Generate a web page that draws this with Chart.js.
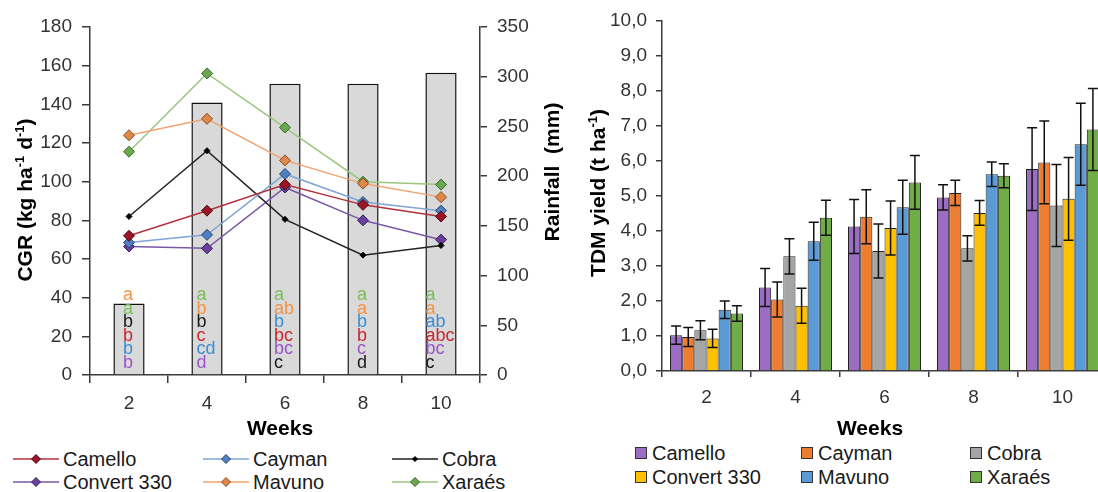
<!DOCTYPE html>
<html>
<head>
<meta charset="utf-8">
<script src="https://cdn.jsdelivr.net/npm/chart.js@4.4.0/dist/chart.umd.min.js"></script>
<style>
  html, body { margin:0; padding:0; background:#fff; width:1098px; height:492px; overflow:hidden; }
  body { position:relative; font-family:"Liberation Sans", Arial, sans-serif; }
  #cgr { position:absolute; left:0; top:0; }
  #tdm { position:absolute; left:580px; top:0; }
  .leg { position:absolute; font-size:20px; color:#1a1a1a; display:flex; align-items:center; white-space:nowrap; height:22px; line-height:22px; }
  .leg svg { margin-right:4px; }
  .quad { display:inline-block; width:10px; height:10px; border:1px solid #333; margin-right:5px; }
</style>
</head>
<body>
<canvas id="cgr" width="570" height="440"></canvas>
<canvas id="tdm" width="540" height="440"></canvas>
<div id="legendas"></div>
<script>
const semanas = ['2', '4', '6', '8', '10'];
const cultivares = ['Camello', 'Cayman', 'Cobra', 'Convert 330', 'Mavuno', 'Xaraés'];

// chuva acumulada (mm)
const chuva = [72, 274, 293, 293, 304];

// CGR (kg ha-1 d-1) por cultivar
const cgrCamello = [72, 85, 98.5, 88, 82];
const cgrCayman  = [68.5, 72.5, 104, 89.5, 85];
const cgrCobra   = [82, 116, 80.5, 62, 67];
const cgrConvert = [66.5, 65.5, 97, 80, 70];
const cgrMavuno  = [124, 132.5, 111, 99, 92];
const cgrXaraes  = [115.5, 156, 128, 100, 98.5];

// letras do teste de medias
const letrasCamello = ['b', 'c', 'bc', 'b', 'abc'];
const letrasCayman  = ['b', 'cd', 'b', 'b', 'ab'];
const letrasCobra   = ['b', 'b', 'c', 'd', 'c'];
const letrasConvert = ['b', 'd', 'bc', 'c', 'bc'];
const letrasMavuno  = ['a', 'b', 'ab', 'a', 'a'];
const letrasXaraes  = ['a', 'a', 'a', 'a', 'a'];

// TDM (t ha-1) e erro
const tdmCamello = [1.02, 2.38, 4.12, 4.95, 5.76];
const tdmCayman  = [0.97, 2.04, 4.40, 5.08, 5.95];
const tdmCobra   = [1.16, 3.27, 3.42, 3.50, 4.72];
const tdmConvert = [0.93, 1.86, 4.08, 4.51, 4.91];
const tdmMavuno  = [1.75, 3.70, 4.67, 5.61, 6.47];
const tdmXaraes  = [1.64, 4.37, 5.38, 5.57, 6.89];
const erroCamello = [0.26, 0.54, 0.77, 0.36, 1.18];
const erroCayman  = [0.27, 0.50, 0.77, 0.36, 1.18];
const erroCobra   = [0.27, 0.50, 0.77, 0.36, 1.17];
const erroConvert = [0.26, 0.50, 0.77, 0.35, 1.18];
const erroMavuno  = [0.25, 0.54, 0.77, 0.35, 1.17];
const erroXaraes  = [0.22, 0.50, 0.77, 0.34, 1.17];

const cgrSeries = [cgrCamello, cgrCayman, cgrCobra, cgrConvert, cgrMavuno, cgrXaraes];
const letrasSeries = [letrasCamello, letrasCayman, letrasCobra, letrasConvert, letrasMavuno, letrasXaraes];
const tdmSeries = [tdmCamello, tdmCayman, tdmCobra, tdmConvert, tdmMavuno, tdmXaraes];
const erroSeries = [erroCamello, erroCayman, erroCobra, erroConvert, erroMavuno, erroXaraes];

// cores
const corLinha   = ['#b3323c', '#7fa5d6', '#222222', '#7b58a5', '#f0a36e', '#9cc77e'];
const corPonto   = ['#9c1526', '#4f7fc0', '#000000', '#6a3f9e', '#e0884a', '#6aa84f'];
const corBordaPt = ['#4d0a12', '#29466f', '#000000', '#33205a', '#8a4a20', '#3a6a2a'];
const corLetra   = ['#c8282e', '#3b8ed4', '#1a1a1a', '#9a55c8', '#f29446', '#7dbb5b'];
const corBarra   = ['#9c6dc3', '#ed7d31', '#a5a5a5', '#ffc000', '#5b9bd5', '#70ad47'];

const fonte = '"Liberation Sans", Arial, sans-serif';
Chart.defaults.font.family = fonte;

// texto com sobrescrito (titulos dos eixos)
function textoRico(ctx, partes, x, y, rot, tam) {
  ctx.save();
  ctx.translate(x, y);
  ctx.rotate(rot);
  const fN = `bold ${tam}px ${fonte}`;
  const fS = `bold ${Math.round(tam * 0.62)}px ${fonte}`;
  let total = 0;
  partes.forEach(p => { ctx.font = p[1] ? fS : fN; total += ctx.measureText(p[0]).width; });
  let cx = -total / 2;
  ctx.fillStyle = '#000';
  ctx.textBaseline = 'alphabetic';
  partes.forEach(p => {
    ctx.font = p[1] ? fS : fN;
    ctx.fillText(p[0], cx, tam * 0.36 - (p[1] ? tam * 0.38 : 0));
    cx += ctx.measureText(p[0]).width;
  });
  ctx.restore();
}

//Letras sobre as barras de chuva-------------------------------------------------
const pluginLetras = {
  id: 'letras',
  afterDatasetsDraw(chart) {
    const ctx = chart.ctx;
    const x = chart.scales.x;
    const base = chart.chartArea.bottom;
    ctx.save();
    ctx.font = `18px ${fonte}`;
    ctx.textBaseline = 'middle';
    ctx.textAlign = 'left';
    semanas.forEach((s, i) => {
      // ordem das letras segue o valor de CGR (maior em cima)
      const linhas = cultivares.map((c, k) => ({ v: cgrSeries[k][i], l: letrasSeries[k][i], cor: corLetra[k] }))
        .sort((a, b) => b.v - a.v);
      const larg = Math.max(...linhas.map(o => ctx.measureText(o.l).width));
      const x0 = x.getPixelForValue(i) - larg / 2 - 1;
      linhas.forEach((o, j) => {
        ctx.fillStyle = o.cor;
        ctx.fillText(o.l, x0, base - 12 - (linhas.length - 1 - j) * 13.6);
      });
    });
    ctx.restore();
  },
  afterDraw(chart) {
    const a = chart.chartArea, ctx = chart.ctx;
    textoRico(ctx, [['CGR (kg ha'], ['-1', 1], [' d'], ['-1', 1], [')']], a.left - 66, 200, -Math.PI / 2, 21);
    textoRico(ctx, [['Rainfall  (mm)']], a.right + 71, 172, -Math.PI / 2, 21);
    textoRico(ctx, [['Weeks']], 280, a.bottom + 52, 0, 21);
  }
};

//Barras de erro------------------------------------------------------------------
const pluginErro = {
  id: 'erro',
  afterDatasetsDraw(chart) {
    const ctx = chart.ctx, y = chart.scales.y;
    ctx.save();
    ctx.strokeStyle = '#111';
    ctx.lineWidth = 1.5;
    chart.data.datasets.forEach((ds, k) => {
      chart.getDatasetMeta(k).data.forEach((bar, i) => {
        const v = ds.data[i], e = erroSeries[k][i];
        const yA = y.getPixelForValue(v + e), yB = y.getPixelForValue(v - e);
        ctx.beginPath();
        ctx.moveTo(bar.x, yA); ctx.lineTo(bar.x, yB);
        ctx.moveTo(bar.x - 5, yA); ctx.lineTo(bar.x + 5, yA);
        ctx.moveTo(bar.x - 5, yB); ctx.lineTo(bar.x + 5, yB);
        ctx.stroke();
      });
    });
    ctx.restore();
  },
  afterDraw(chart) {
    const a = chart.chartArea, ctx = chart.ctx;
    textoRico(ctx, [['TDM yield (t ha'], ['-1', 1], [')']], a.left - 65, 193, -Math.PI / 2, 21);
    textoRico(ctx, [['Weeks']], 290, a.bottom + 56, 0, 21);
  }
};

const eixoCor = '#3a3a3a';
const tickFonte = { size: 19 };

//Grafico CGR + chuva-------------------------------------------------------------
const dsCGR = cultivares.map((nome, k) => ({
  type: 'line',
  label: nome,
  data: cgrSeries[k],
  yAxisID: 'y',
  borderColor: corLinha[k],
  borderWidth: 1.5,
  pointStyle: 'rectRot',
  pointRadius: nome === 'Cobra' ? 3 : 5.5,
  pointBackgroundColor: corPonto[k],
  pointBorderColor: corBordaPt[k],
  pointBorderWidth: 1,
  tension: 0,
  order: 1
}));

new Chart(document.getElementById('cgr'), {
  type: 'bar',
  data: {
    labels: semanas,
    datasets: [{
      label: 'Rainfall',
      data: chuva,
      yAxisID: 'y1',
      backgroundColor: '#d9d9d9',
      borderColor: '#111',
      borderWidth: 1.5,
      categoryPercentage: 1,
      barPercentage: 0.4,
      order: 10
    }, ...dsCGR]
  },
  options: {
    responsive: false,
    animation: false,
    devicePixelRatio: 1,
    layout: { padding: { top: 27, left: 0, right: 0, bottom: 0 } },
    plugins: { legend: { display: false }, tooltip: { enabled: false } },
    scales: {
      x: {
        offset: true,
        grid: { offset: true, drawOnChartArea: false, color: eixoCor, lineWidth: 1.5, tickLength: 8 },
        border: { color: eixoCor, width: 1.5 },
        ticks: { color: '#333', font: tickFonte, padding: 9 },
        afterFit: s => { s.height = 65; }
      },
      y: {
        position: 'left',
        min: 0, max: 180,
        grid: { drawOnChartArea: false, color: eixoCor, lineWidth: 1.5, tickLength: 8 },
        border: { color: eixoCor, width: 1.5 },
        ticks: { stepSize: 20, color: '#333', font: tickFonte, padding: 10 },
        afterFit: s => { s.width = 90; }
      },
      y1: {
        position: 'right',
        min: 0, max: 350,
        grid: { drawOnChartArea: false, color: eixoCor, lineWidth: 1.5, tickLength: 7 },
        border: { color: eixoCor, width: 1.5 },
        ticks: { stepSize: 50, color: '#333', font: tickFonte, padding: 10 },
        afterFit: s => { s.width = 90; }
      }
    }
  },
  plugins: [pluginLetras]
});

//Grafico TDM---------------------------------------------------------------------
new Chart(document.getElementById('tdm'), {
  type: 'bar',
  data: {
    labels: semanas,
    datasets: cultivares.map((nome, k) => ({
      label: nome,
      data: tdmSeries[k],
      backgroundColor: corBarra[k],
      borderColor: '#222',
      borderWidth: 1,
      categoryPercentage: 0.82,
      barPercentage: 1
    }))
  },
  options: {
    responsive: false,
    animation: false,
    devicePixelRatio: 1,
    layout: { padding: { top: 19, left: 0, right: 13, bottom: 0 } },
    plugins: { legend: { display: false }, tooltip: { enabled: false } },
    scales: {
      x: {
        offset: true,
        grid: { offset: true, drawOnChartArea: false, color: eixoCor, lineWidth: 1.5, tickLength: 6 },
        border: { color: eixoCor, width: 1.5 },
        ticks: { color: '#333', font: tickFonte, padding: 9 },
        afterFit: s => { s.height = 69; }
      },
      y: {
        min: 0, max: 10,
        grid: { drawOnChartArea: false, color: eixoCor, lineWidth: 1.5, tickLength: 6 },
        border: { color: eixoCor, width: 1.5 },
        ticks: {
          stepSize: 1, color: '#333', font: tickFonte, padding: 9,
          callback: v => v.toFixed(1).replace('.', ',')
        },
        afterFit: s => { s.width = 82; }
      }
    }
  },
  plugins: [pluginErro]
});

//Legendas em HTML----------------------------------------------------------------
const legendas = document.getElementById('legendas');
const colEsq = [13, 203, 392], linEsq = [459, 482];
const colDir = [635, 801, 970], linDir = [453, 477];

cultivares.forEach((nome, k) => {
  const c = k % 3, l = Math.floor(k / 3);
  // legenda das linhas
  const a = document.createElement('div');
  a.className = 'leg';
  a.style.left = colEsq[c] + 'px';
  a.style.top = (linEsq[l] - 11) + 'px';
  const r = nome === 'Cobra' ? 2.5 : 4.5;
  a.innerHTML = `<svg width="46" height="14"><line x1="0" y1="7" x2="46" y2="7" stroke="${corLinha[k]}" stroke-width="1.5"/>` +
    `<polygon points="23,${7 - r} ${23 + r},7 23,${7 + r} ${23 - r},7" fill="${corPonto[k]}" stroke="${corBordaPt[k]}" stroke-width="1"/></svg>`;
  a.appendChild(document.createTextNode(nome));
  legendas.appendChild(a);

  // legenda das barras
  const b = document.createElement('div');
  b.className = 'leg';
  b.style.left = colDir[c] + 'px';
  b.style.top = (linDir[l] - 11) + 'px';
  b.innerHTML = `<span class="quad" style="background:${corBarra[k]}"></span>`;
  b.appendChild(document.createTextNode(nome));
  legendas.appendChild(b);
});
</script>
</body>
</html>
